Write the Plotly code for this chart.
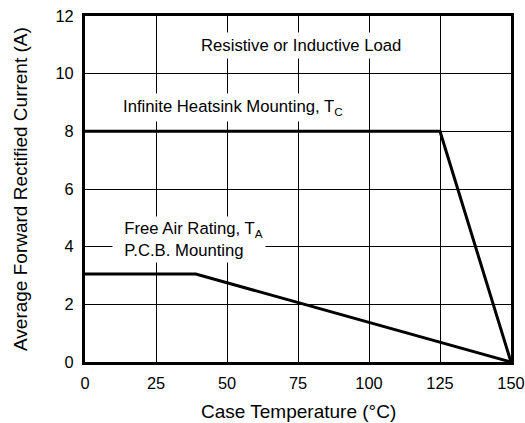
import plotly.graph_objects as go

# Data
heatsink_temp = [0, 125, 150]
heatsink_current = [8, 8, 0]
freeair_temp = [0, 39, 150]
freeair_current = [3.05, 3.05, 0]
x_ticks = [0, 25, 50, 75, 100, 125, 150]
y_ticks = [0, 2, 4, 6, 8, 10, 12]

FONT = "Liberation Sans, Arial, Helvetica, sans-serif"
TXT = dict(size=16.7, color="black", family=FONT)

fig = go.Figure()
fig.add_trace(go.Scatter(x=heatsink_temp, y=heatsink_current, mode="lines",
                         line=dict(color="black", width=3), showlegend=False, cliponaxis=False))
fig.add_trace(go.Scatter(x=freeair_temp, y=freeair_current, mode="lines",
                         line=dict(color="black", width=3), showlegend=False, cliponaxis=False))

fig.add_annotation(x=76, y=10.97, text="Resistive or Inductive Load", showarrow=False,
                   bgcolor="white", borderpad=3, font=TXT)
fig.add_annotation(x=11.9, y=8.81, xanchor="left", text="Infinite Heatsink Mounting, T<sub>C</sub>",
                   showarrow=False, bgcolor="white", borderpad=3, font=TXT)
fig.add_annotation(x=9.5, y=4.26, xanchor="left", align="left",
                   text="  Free Air Rating, T<sub>A</sub><br>  P.C.B. Mounting ",
                   showarrow=False, bgcolor="white", borderpad=2, font=TXT)

# Axis titles
fig.add_annotation(xref="paper", yref="paper", x=0.5, y=0, yanchor="middle", yshift=-49,
                   text="Case Temperature (°C)", showarrow=False,
                   font=dict(size=19, color="black", family=FONT))
fig.add_annotation(xref="paper", yref="paper", x=0, y=0.5, xanchor="center", xshift=-65,
                   text="Average Forward Rectified Current (A)", textangle=-90, showarrow=False,
                   font=dict(size=19, color="black", family=FONT))

fig.update_xaxes(range=[0, 150], tickvals=x_ticks, ticktext=[str(v) for v in x_ticks],
                 showgrid=True, gridcolor="black", gridwidth=1,
                 showline=True, linecolor="black", linewidth=3, mirror=True,
                 ticks="", zeroline=False, automargin=False, ticklabelstandoff=4,
                 tickfont=dict(size=16.4, family=FONT, color="black"))
fig.update_yaxes(range=[0, 12], tickvals=y_ticks, ticktext=[str(v) for v in y_ticks],
                 showgrid=True, gridcolor="black", gridwidth=1,
                 showline=True, linecolor="black", linewidth=3, mirror=True,
                 ticks="", zeroline=False, automargin=False, ticklabelstandoff=5,
                 tickfont=dict(size=16.4, family=FONT, color="black"))

fig.update_layout(width=525, height=423, margin=dict(l=85, r=14, t=16, b=61),
                  plot_bgcolor="white", paper_bgcolor="white",
                  font=dict(family=FONT, color="black"))

fig.write_html("out.html", config={"displayModeBar": False},
               post_script="document.body.style.margin='0';document.body.style.overflow='hidden';")
